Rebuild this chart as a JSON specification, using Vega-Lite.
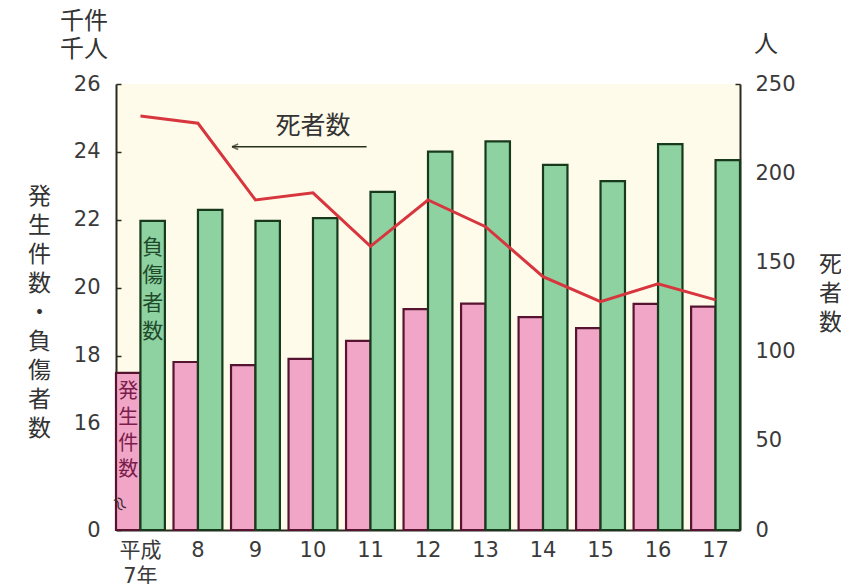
{
  "$schema": "https://vega.github.io/schema/vega-lite/v6.json",
  "width": 624,
  "height": 446,
  "autosize": {"type": "none"},
  "padding": {"left": 116, "top": 84, "right": 101, "bottom": 54},
  "background": "white",
  "config": {
    "font": "Noto Sans CJK JP",
    "view": {"fill": "#fffbea", "stroke": null},
    "axis": {
      "labelFont": "DejaVu Sans",
      "labelFontSize": 21,
      "labelColor": "#3a3a3a",
      "domainColor": "#2a2a1e",
      "domainWidth": 2,
      "tickColor": "#2a2a1e",
      "tickWidth": 1.5,
      "grid": false,
      "titleFont": "Noto Sans CJK JP",
      "titleFontSize": 23,
      "titleFontWeight": "normal",
      "titleColor": "#333333"
    }
  },
  "datasets": {
    "bars": [
      {"year": 7, "series": "発生件数", "value": 17.49},
      {"year": 8, "series": "発生件数", "value": 17.81},
      {"year": 9, "series": "発生件数", "value": 17.72},
      {"year": 10, "series": "発生件数", "value": 17.9},
      {"year": 11, "series": "発生件数", "value": 18.43},
      {"year": 12, "series": "発生件数", "value": 19.37},
      {"year": 13, "series": "発生件数", "value": 19.53},
      {"year": 14, "series": "発生件数", "value": 19.13},
      {"year": 15, "series": "発生件数", "value": 18.81},
      {"year": 16, "series": "発生件数", "value": 19.52},
      {"year": 17, "series": "発生件数", "value": 19.44},
      {"year": 7, "series": "負傷者数", "value": 21.97},
      {"year": 8, "series": "負傷者数", "value": 22.29},
      {"year": 9, "series": "負傷者数", "value": 21.97},
      {"year": 10, "series": "負傷者数", "value": 22.05},
      {"year": 11, "series": "負傷者数", "value": 22.82},
      {"year": 12, "series": "負傷者数", "value": 24.01},
      {"year": 13, "series": "負傷者数", "value": 24.31},
      {"year": 14, "series": "負傷者数", "value": 23.62},
      {"year": 15, "series": "負傷者数", "value": 23.14},
      {"year": 16, "series": "負傷者数", "value": 24.23},
      {"year": 17, "series": "負傷者数", "value": 23.76}
    ],
    "deaths": [
      {"year": 7, "deaths": 232},
      {"year": 8, "deaths": 228},
      {"year": 9, "deaths": 185},
      {"year": 10, "deaths": 189},
      {"year": 11, "deaths": 159},
      {"year": 12, "deaths": 185},
      {"year": 13, "deaths": 170},
      {"year": 14, "deaths": 142},
      {"year": 15, "deaths": 128},
      {"year": 16, "deaths": 138},
      {"year": 17, "deaths": 129}
    ]
  },
  "layer": [
    {
      "layer": [
        {
          "data": {"name": "bars"},
          "mark": {"type": "bar", "strokeWidth": 2.2},
          "encoding": {
            "x": {
              "field": "year",
              "type": "ordinal",
              "scale": {"paddingInner": 0.15, "paddingOuter": 0},
              "axis": {
                "title": null,
                "ticks": false,
                "labelAngle": 0,
                "labelPadding": 9,
                "labelFont": "DejaVu Sans, Noto Sans CJK JP",
                "labelFontSize": 21,
                "labelLineHeight": 26,
                "labelExpr": "datum.value == 7 ? ['平成', '7年'] : datum.label"
              }
            },
            "xOffset": {"field": "series", "type": "nominal", "sort": ["発生件数", "負傷者数"]},
            "y": {
              "field": "value",
              "type": "quantitative",
              "scale": {"domain": [12.86, 26], "zero": false, "nice": false},
              "axis": {
                "values": [12.86, 16, 18, 20, 22, 24, 26],
                "labelExpr": "datum.value < 13 ? '0' : datum.label",
                "tickSize": -5,
                "labelPadding": 21,
                "title": ["発", "生", "件", "数", "・", "負", "傷", "者", "数"],
                "titleAngle": 0,
                "titleX": -77,
                "titleY": 101,
                "titleAlign": "center",
                "titleBaseline": "top",
                "titleLineHeight": 29
              }
            },
            "y2": {"datum": 12.86},
            "fill": {
              "field": "series",
              "type": "nominal",
              "scale": {"domain": ["発生件数", "負傷者数"], "range": ["#f1a6c8", "#8ed2a2"]},
              "legend": null
            },
            "stroke": {
              "field": "series",
              "type": "nominal",
              "scale": {"domain": ["発生件数", "負傷者数"], "range": ["#561430", "#183a1c"]},
              "legend": null
            }
          }
        },
        {
          "data": {"values": [{}]},
          "mark": {"type": "text", "text": "負\n傷\n者\n数", "lineBreak": "\n", "fontSize": 21, "lineHeight": 28, "baseline": "top", "align": "center", "color": "#1f4a2a"},
          "encoding": {
            "x": {"datum": 7, "type": "ordinal", "bandPosition": 0.75},
            "y": {"datum": 21.48, "type": "quantitative"}
          }
        },
        {
          "data": {"values": [{}]},
          "mark": {"type": "text", "text": "発\n生\n件\n数", "lineBreak": "\n", "fontSize": 20, "lineHeight": 26, "baseline": "top", "align": "center", "color": "#7a1d4a"},
          "encoding": {
            "x": {"datum": 7, "type": "ordinal", "bandPosition": 0.25},
            "y": {"datum": 17.21, "type": "quantitative"}
          }
        },
        {
          "data": {"values": [{}]},
          "mark": {"type": "text", "text": "≈", "fontSize": 18, "align": "center", "baseline": "middle", "angle": 60, "color": "#3a2a2a"},
          "encoding": {
            "x": {"datum": 7, "type": "ordinal", "bandPosition": 0.05},
            "y": {"datum": 13.6, "type": "quantitative"}
          }
        },
        {
          "data": {"values": [{}]},
          "mark": {"type": "text", "text": "千件\n千人", "lineBreak": "\n", "fontSize": 24, "lineHeight": 28, "baseline": "top", "align": "center", "dx": -32, "color": "#333333"},
          "encoding": {
            "x": {"datum": 7, "type": "ordinal", "bandPosition": 0},
            "y": {"datum": 28.18, "type": "quantitative"}
          }
        },
        {
          "data": {"values": [{}]},
          "mark": {"type": "text", "text": "死者数", "fontSize": 25, "baseline": "middle", "align": "center", "color": "#333333"},
          "encoding": {
            "x": {"datum": 10, "type": "ordinal", "bandPosition": 0.5},
            "y": {"datum": 24.75, "type": "quantitative"}
          }
        },
        {
          "data": {"values": [{}]},
          "mark": {"type": "rule", "strokeWidth": 1.6, "color": "#2a3020"},
          "encoding": {
            "x": {"datum": 9, "type": "ordinal", "bandPosition": 0.02},
            "x2": {"datum": 11, "bandPosition": 0.42},
            "y": {"datum": 24.15, "type": "quantitative"}
          }
        },
        {
          "data": {"values": [{}]},
          "mark": {"type": "point", "shape": "M0,0L1.6,-0.7M0,0L1.6,0.7", "size": 60, "strokeWidth": 1.6, "color": "#2a3020", "filled": false},
          "encoding": {
            "x": {"datum": 9, "type": "ordinal", "bandPosition": 0.02},
            "y": {"datum": 24.15, "type": "quantitative"}
          }
        }
      ]
    },
    {
      "layer": [
        {
          "data": {"name": "deaths"},
          "mark": {"type": "line", "color": "#d8363e", "strokeWidth": 3},
          "encoding": {
            "x": {"field": "year", "type": "ordinal"},
            "y": {
              "field": "deaths",
              "type": "quantitative",
              "scale": {"domain": [0, 250], "nice": false},
              "axis": {
                "orient": "right",
                "values": [0, 50, 100, 150, 200, 250],
                "tickSize": -5,
                "labelPadding": 20,
                "title": ["死", "者", "数"],
                "titleAngle": 0,
                "titleX": 90,
                "titleY": 169,
                "titleAlign": "center",
                "titleBaseline": "top",
                "titleLineHeight": 29
              }
            }
          }
        },
        {
          "data": {"values": [{}]},
          "mark": {"type": "text", "text": "人", "fontSize": 24, "baseline": "middle", "align": "center", "dx": 26, "color": "#333333"},
          "encoding": {
            "x": {"datum": 17, "type": "ordinal", "bandPosition": 1},
            "y": {"datum": 272, "type": "quantitative"}
          }
        }
      ]
    }
  ],
  "resolve": {"scale": {"y": "independent"}}
}
